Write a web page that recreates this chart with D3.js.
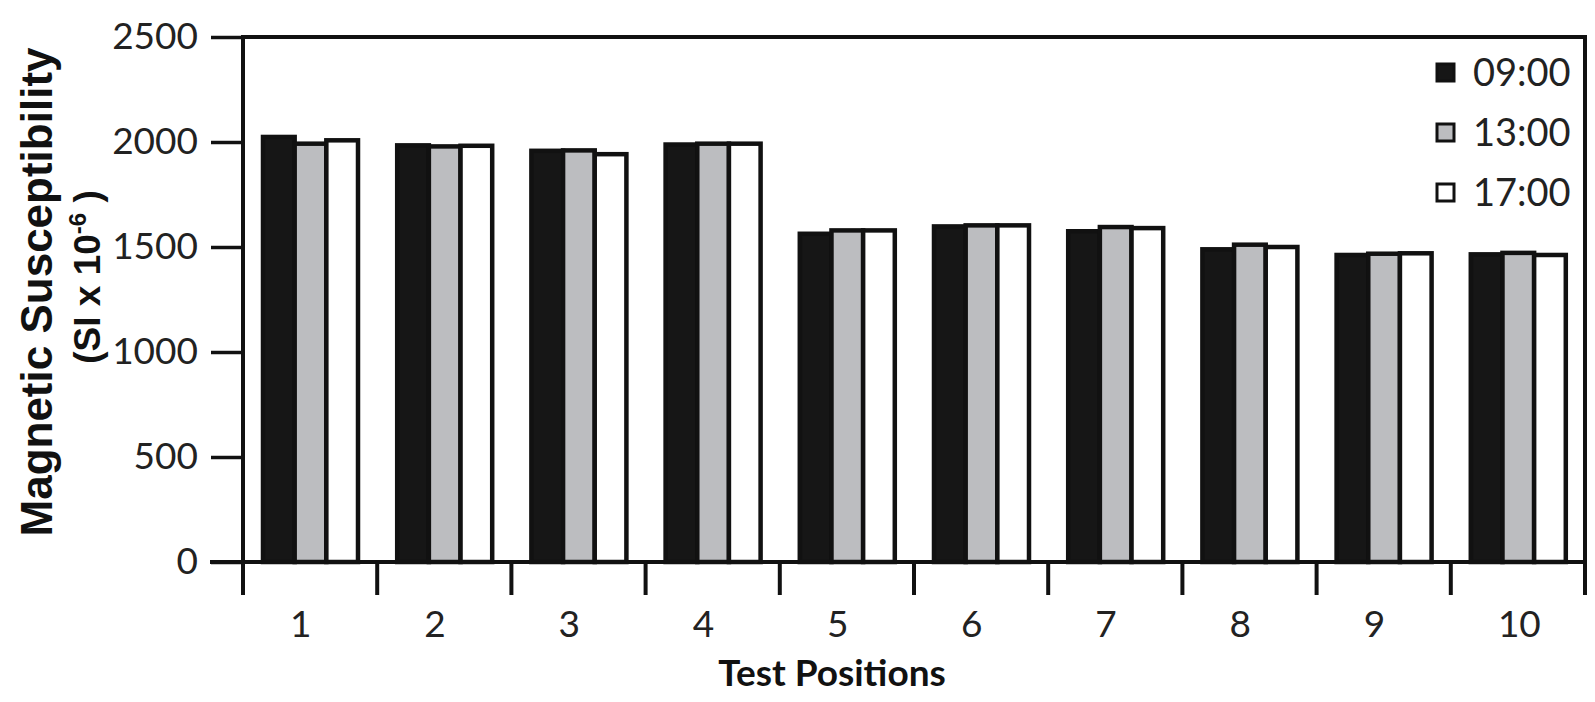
<!DOCTYPE html>
<html>
<head>
<meta charset="utf-8">
<style>
  body { margin: 0; background: #fff; }
  svg { display: block; }
</style>
</head>
<body>
<div id="chart"></div>
<script src="https://d3js.org/d3.v7.min.js"></script>
<script>
const positions = ["1", "2", "3", "4", "5", "6", "7", "8", "9", "10"];
const times = ["09:00", "13:00", "17:00"];
const at0900 = [2024, 1984, 1958, 1988, 1563, 1598, 1575, 1489, 1462, 1465];
const at1300 = [1992, 1979, 1960, 1992, 1579, 1603, 1595, 1511, 1468, 1472];
const at1700 = [2008, 1982, 1942, 1992, 1579, 1603, 1590, 1500, 1470, 1462];
const yTicks = [0, 500, 1000, 1500, 2000, 2500];
const fills = ["#161616", "#bcbdc0", "#ffffff"];

const series = [at0900, at1300, at1700];
const rows = positions.map((p, i) => ({ pos: p, values: series.map((s, j) => ({ time: times[j], value: s[i] })) }));

const width = 1595, height = 702;
const plotLeft = 243, plotRight = 1585, plotTop = 37, plotBottom = 562;

const svg = d3.select("#chart").append("svg")
    .attr("width", width)
    .attr("height", height);

const x0 = d3.scaleBand().domain(positions).range([plotLeft, plotRight]).padding(0);
const x1 = d3.scaleBand().domain(times).range([20, 115]).padding(0);
const y = d3.scaleLinear().domain([0, 2500]).range([plotBottom, plotTop]);
const color = d3.scaleOrdinal().domain(times).range(fills);

// bars
svg.append("g")
  .selectAll("g")
  .data(rows)
  .join("g")
    .attr("transform", d => `translate(${x0(d.pos)},0)`)
  .selectAll("rect")
  .data(d => d.values)
  .join("rect")
    .attr("x", d => x1(d.time))
    .attr("width", x1.bandwidth())
    .attr("y", d => y(d.value))
    .attr("height", d => y(0) - y(d.value))
    .attr("fill", d => color(d.time))
    .attr("stroke", "#111")
    .attr("stroke-width", 4.5);

// frame
const frame = svg.append("g").attr("stroke", "#111").attr("stroke-width", 4).attr("fill", "none");
frame.append("line").attr("x1", plotLeft).attr("x2", plotRight).attr("y1", plotTop).attr("y2", plotTop);
frame.append("line").attr("x1", plotRight).attr("x2", plotRight).attr("y1", plotTop - 2).attr("y2", plotBottom);

// y axis
const yAxis = svg.append("g")
    .attr("transform", `translate(${plotLeft},0)`)
    .call(d3.axisLeft(y).tickValues(yTicks).tickFormat(d3.format("d"))
      .tickSize(32).tickPadding(13).tickSizeOuter(0));
yAxis.select(".domain").attr("stroke", "#111").attr("stroke-width", 4).attr("d", `M0,${plotTop - 2}V${plotBottom + 33}`);
yAxis.selectAll(".tick line").attr("stroke", "#111").attr("stroke-width", 3.5);
yAxis.selectAll("text")
    .attr("font-family", "Lato, sans-serif")
    .attr("font-size", 37)
    .attr("fill", "#222");

// x axis: ticks at band edges
const edges = positions.map(p => x0(p)).concat([plotRight]);
const xAxis = svg.append("g");
xAxis.append("line")
    .attr("x1", 210).attr("x2", plotRight + 2)
    .attr("y1", plotBottom).attr("y2", plotBottom)
    .attr("stroke", "#111").attr("stroke-width", 4);
xAxis.selectAll(".edge")
  .data(edges)
  .join("line")
    .attr("class", "edge")
    .attr("x1", d => d).attr("x2", d => d)
    .attr("y1", plotBottom).attr("y2", plotBottom + 33)
    .attr("stroke", "#111").attr("stroke-width", 4);
xAxis.selectAll("text")
  .data(positions)
  .join("text")
    .attr("x", d => x0(d) + x0.bandwidth() / 2 - 20)
    .attr("y", 637)
    .attr("font-family", "Lato, sans-serif")
    .attr("font-size", 37)
    .attr("fill", "#222")
    .text(d => d);

// axis titles
svg.append("text")
    .attr("x", 832)
    .attr("y", 686)
    .attr("text-anchor", "middle")
    .attr("font-family", "Lato, sans-serif")
    .attr("font-weight", "bold")
    .attr("font-size", 37)
    .attr("fill", "#111")
    .text("Test Positions");

const yTitle = svg.append("g")
    .attr("transform", "translate(0,292) rotate(-90)")
    .attr("font-family", "'Liberation Sans', Arial, sans-serif")
    .attr("font-weight", "bold")
    .attr("fill", "#111")
    .attr("text-anchor", "middle");
yTitle.append("text")
    .attr("x", 0).attr("y", 52)
    .attr("font-size", 44)
    .text("Magnetic Susceptibility");
const unit = yTitle.append("text")
    .attr("x", 15).attr("y", 100)
    .attr("font-size", 37);
unit.append("tspan").text("(SI x 10");
unit.append("tspan").attr("dy", -14).attr("font-size", 24).text("-6");
unit.append("tspan").attr("dy", 14).text(" )");

// legend
const legend = svg.append("g")
  .selectAll("g")
  .data(times)
  .join("g")
    .attr("transform", (d, i) => `translate(1437,${73 + i * 60})`);
legend.append("rect")
    .attr("x", 0).attr("y", -9)
    .attr("width", 17).attr("height", 17)
    .attr("fill", d => color(d))
    .attr("stroke", "#111")
    .attr("stroke-width", 3);
legend.append("text")
    .attr("x", 36)
    .attr("dy", "0.35em")
    .attr("font-family", "Lato, sans-serif")
    .attr("font-size", 38)
    .attr("fill", "#222")
    .text(d => d);
</script>
</body>
</html>
